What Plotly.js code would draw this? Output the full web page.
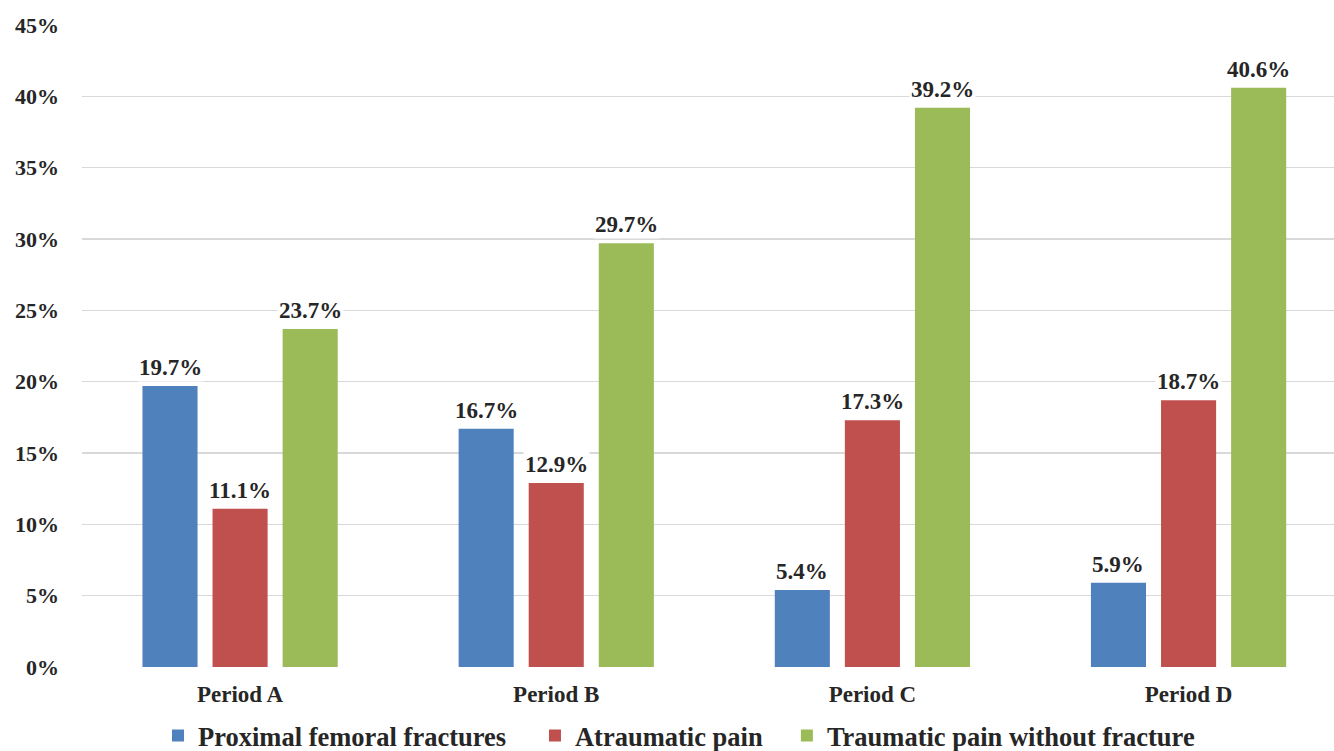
<!DOCTYPE html>
<html>
<head>
<meta charset="utf-8">
<script src="https://cdn.plot.ly/plotly-3.0.1.min.js"></script>
<style>
  html, body { margin: 0; padding: 0; background: #ffffff; }
  #chart { width: 1334px; height: 751px; }
</style>
</head>
<body>
<div id="chart"></div>
<script>
// Share of cases per period, by complaint group (percent)
const periods = ['Period A', 'Period B', 'Period C', 'Period D'];
const seriesNames = ['Proximal femoral fractures', 'Atraumatic pain', 'Traumatic pain without fracture'];
const proximalFemoral = [19.7, 16.7, 5.4, 5.9];
const atraumaticPain = [11.1, 12.9, 17.3, 18.7];
const traumaticNoFracture = [23.7, 29.7, 39.2, 40.6];
const yTicks = [0, 5, 10, 15, 20, 25, 30, 35, 40, 45];

const seriesValues = [proximalFemoral, atraumaticPain, traumaticNoFracture];
const colors = ['#4F81BD', '#C0504D', '#9BBB59'];
const font = '"Liberation Serif", "Times New Roman", serif';
const ink = '#262626';

const bargap = 0.335;
const slot = (1 - bargap) / seriesValues.length;

// One legend per series so each key can sit at its own spot along the bottom
const legendIds = ['legend', 'legend2', 'legend3'];
const legendX = [0.0607, 0.3618, 0.563];

const traces = seriesValues.map((vals, i) => ({
  type: 'bar',
  name: seriesNames[i],
  x: periods,
  y: vals,
  marker: { color: colors[i] },
  legend: legendIds[i],
  hoverinfo: 'x+y'
}));

// Value labels sit above each bar on a white box, hiding the gridline behind them
const annotations = [];
seriesValues.forEach((vals, i) => {
  vals.forEach((v, j) => {
    annotations.push({
      x: j + (i - 1) * slot,
      y: v,
      xref: 'x',
      yref: 'y',
      text: v.toFixed(1) + '%',
      showarrow: false,
      yanchor: 'bottom',
      yshift: 4,
      bgcolor: '#ffffff',
      borderpad: 1,
      font: { family: font, size: 23, color: ink, weight: 'bold' }
    });
  });
});

const layout = {
  width: 1334,
  height: 751,
  font: { family: font, color: ink, weight: 'bold' },
  margin: { l: 82, r: 0, t: 25, b: 84, autoexpand: false },
  paper_bgcolor: '#ffffff',
  plot_bgcolor: '#ffffff',
  barmode: 'group',
  bargap: bargap,
  bargroupgap: 0.214,
  showlegend: true,
  xaxis: {
    type: 'category',
    range: [-0.5, 3.46],
    showgrid: false,
    zeroline: false,
    showline: false,
    ticks: '',
    tickfont: { family: font, size: 23, color: ink, weight: 'bold' },
    ticklabelstandoff: 11,
    fixedrange: true
  },
  yaxis: {
    range: [0, 45],
    tickvals: yTicks,
    ticktext: yTicks.map(t => t + '%'),
    showgrid: true,
    gridcolor: '#d9d9d9',
    gridwidth: 1.5,
    zeroline: false,
    showline: false,
    ticks: '',
    tickfont: { family: font, size: 22, color: ink, weight: 'bold' },
    ticklabelstandoff: 22,
    fixedrange: true
  },
  annotations: annotations
};

legendIds.forEach((id, i) => {
  layout[id] = {
    orientation: 'h',
    x: legendX[i],
    xanchor: 'left',
    y: -0.107,
    yanchor: 'middle',
    bgcolor: 'rgba(0,0,0,0)',
    font: { family: font, size: 26.5, color: ink, weight: 'bold' },
    itemwidth: 30
  };
});

Plotly.newPlot('chart', traces, layout, { displayModeBar: false, staticPlot: true });
</script>
</body>
</html>
